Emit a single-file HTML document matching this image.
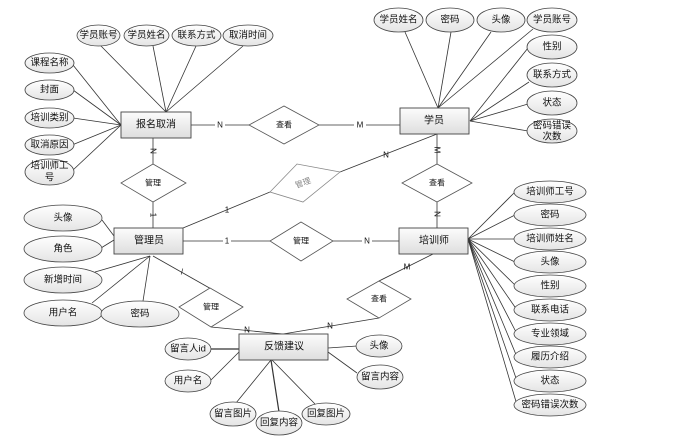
<!DOCTYPE html>
<html><head><meta charset="utf-8"><style>
body{margin:0;background:#fff;width:676px;height:440px;overflow:hidden}
text{font-family:"Liberation Sans","Noto Sans CJK SC",sans-serif;font-size:9.5px;fill:#111;text-anchor:middle;dominant-baseline:central}
.e{fill:url(#g);stroke:#444;stroke-width:0.8}
.r{fill:url(#g2);stroke:#444;stroke-width:0.9}
.d{fill:#fff;stroke:#555;stroke-width:0.8}
line,polyline{stroke:#333;stroke-width:0.8;fill:none}
.lb{font-size:8px}
</style></head><body>
<svg width="676" height="440" xmlns="http://www.w3.org/2000/svg">
<defs>
<linearGradient id="g" x1="0" y1="0" x2="0" y2="1"><stop offset="0" stop-color="#fff"/><stop offset="1" stop-color="#e4e4e4"/></linearGradient>
<linearGradient id="g2" x1="0" y1="0" x2="0" y2="1"><stop offset="0" stop-color="#fcfcfc"/><stop offset="1" stop-color="#dedede"/></linearGradient>
</defs>
<!-- lines 报名取消 -->
<line x1="100" y1="45" x2="166" y2="112"/><line x1="153" y1="46" x2="166" y2="112"/><line x1="196" y1="46" x2="166" y2="112"/><line x1="243" y1="46" x2="166" y2="112"/>
<line x1="73" y1="65" x2="121" y2="125"/><line x1="73" y1="90" x2="121" y2="125"/><line x1="73" y1="118" x2="121" y2="125"/><line x1="72" y1="145" x2="121" y2="125"/><line x1="73" y1="170" x2="121" y2="125"/>
<!-- 学员 lines -->
<line x1="405" y1="32" x2="438" y2="108"/><line x1="451" y1="32" x2="438" y2="108"/><line x1="491" y1="32" x2="438" y2="108"/><line x1="533" y1="29" x2="438" y2="108"/>
<line x1="528" y1="48" x2="470" y2="121"/><line x1="529" y1="82" x2="470" y2="121"/><line x1="528" y1="104" x2="470" y2="121"/><line x1="528" y1="131" x2="470" y2="121"/>
<!-- 培训师 lines -->
<line x1="468" y1="239" x2="515" y2="192"/><line x1="468" y1="239" x2="515" y2="215"/><line x1="468" y1="239" x2="514" y2="239"/><line x1="468" y1="239" x2="515" y2="262"/><line x1="468" y1="239" x2="516" y2="286"/><line x1="468" y1="239" x2="517" y2="310"/><line x1="468" y1="239" x2="517" y2="334"/><line x1="468" y1="239" x2="517" y2="357"/><line x1="468" y1="239" x2="517" y2="381"/><line x1="468" y1="239" x2="517" y2="405"/>
<!-- 管理员 lines -->
<line x1="102" y1="220" x2="114" y2="236"/><line x1="101" y1="248" x2="114" y2="240"/><line x1="95" y1="272" x2="150" y2="256"/><line x1="92" y1="303" x2="150" y2="256"/><line x1="143" y1="301" x2="150" y2="256"/>
<!-- 反馈 lines -->
<line x1="211" y1="349" x2="239" y2="349" style="stroke-width:1.3"/><line x1="211" y1="380" x2="239" y2="352"/><line x1="236" y1="403" x2="271" y2="360"/><line x1="279" y1="412" x2="271" y2="360" style="stroke-width:1.2"/><line x1="315" y1="404" x2="272" y2="360"/><line x1="357" y1="346" x2="328" y2="348"/><line x1="357" y1="373" x2="328" y2="352"/>
<!-- relationship connectors -->
<line x1="191" y1="125" x2="249" y2="125"/><line x1="319" y1="125" x2="400" y2="125"/>
<line x1="153" y1="138" x2="153" y2="164"/><line x1="153" y1="202" x2="153" y2="228"/>
<line x1="183" y1="228" x2="270" y2="192"/><line x1="340" y1="172" x2="437" y2="134"/>
<line x1="437" y1="134" x2="437" y2="164"/><line x1="437" y1="202" x2="437" y2="228"/>
<line x1="183" y1="241" x2="270" y2="241"/><line x1="333" y1="241" x2="399" y2="241"/>
<line x1="153" y1="256" x2="243" y2="307"/><line x1="211" y1="327" x2="283" y2="334"/>
<line x1="283" y1="334" x2="379" y2="318"/><line x1="379" y1="281" x2="433" y2="254"/>
<!-- labels on connectors -->
<g class="lb">
<rect x="215" y="120" width="10" height="10" fill="#fff"/><text x="220" y="125" class="lb">N</text>
<rect x="354" y="120" width="12" height="10" fill="#fff"/><text x="360" y="125" class="lb">M</text>
<text x="153" y="151" class="lb" transform="rotate(90 153 151)">N</text>
<text x="153" y="215" class="lb" transform="rotate(90 153 215)">1</text>
<text x="227" y="210" class="lb">1</text>
<text x="386" y="155" class="lb">N</text>
<text x="437" y="150" class="lb" transform="rotate(90 437 150)">M</text>
<text x="437" y="214" class="lb" transform="rotate(90 437 214)">N</text>
<rect x="223" y="236" width="8" height="10" fill="#fff"/><text x="227" y="241" class="lb">1</text>
<rect x="362" y="236" width="10" height="10" fill="#fff"/><text x="367" y="241" class="lb">N</text>
<text x="182" y="272" class="lb">/</text>
<text x="247" y="330" class="lb">N</text>
<text x="330" y="326" class="lb">N</text>
<text x="407" y="267" class="lb">M</text>
</g>
<!-- diamonds -->
<polygon class="d" points="249,125 284,106 319,125 284,144"/><text x="284" y="125" style="font-size:8px">查看</text>
<polygon class="d" points="121,183 153,164 186,183 153,202"/><text x="153" y="183" style="font-size:8px">管理</text>
<polygon class="d" points="270,192 297,164 340,172 303,202" style="stroke:#888"/><text x="303" y="183" style="font-size:8px;fill:#888" transform="rotate(-20 303 183)">管理</text>
<polygon class="d" points="402,183 437,164 472,183 437,202"/><text x="437" y="183" style="font-size:8px">查看</text>
<polygon class="d" points="270,241 301,222 333,241 301,261"/><text x="301" y="241" style="font-size:8px">管理</text>
<polygon class="d" points="179,307 210,288 243,307 211,327"/><text x="211" y="307" style="font-size:8px">管理</text>
<polygon class="d" points="347,299 379,281 411,299 379,318"/><text x="379" y="299" style="font-size:8px">查看</text>
<!-- entities -->
<rect class="r" x="121" y="112" width="70" height="26"/><text x="156" y="125" style="font-size:10px">报名取消</text>
<rect class="r" x="400" y="108" width="69" height="26"/><text x="434" y="121" style="font-size:10px">学员</text>
<rect class="r" x="114" y="228" width="69" height="26"/><text x="149" y="241" style="font-size:10px">管理员</text>
<rect class="r" x="399" y="228" width="69" height="26"/><text x="434" y="241" style="font-size:10px">培训师</text>
<rect class="r" x="239" y="334" width="89" height="26"/><text x="284" y="347" style="font-size:10px">反馈建议</text>
<!-- attributes -->
<ellipse class="e" cx="98.5" cy="35.5" rx="21.5" ry="10.5"/><text x="98.5" y="35.5">学员账号</text>
<ellipse class="e" cx="146.5" cy="35.5" rx="22.5" ry="10.5"/><text x="146.5" y="35.5">学员姓名</text>
<ellipse class="e" cx="196.5" cy="35.5" rx="24.5" ry="10.5"/><text x="196.5" y="35.5">联系方式</text>
<ellipse class="e" cx="248" cy="35.5" rx="25" ry="10.5"/><text x="248" y="35.5">取消时间</text>
<ellipse class="e" cx="49.5" cy="63" rx="24.5" ry="10"/><text x="49.5" y="63">课程名称</text>
<ellipse class="e" cx="49.5" cy="90" rx="24.5" ry="10"/><text x="49.5" y="90">封面</text>
<ellipse class="e" cx="49.5" cy="118" rx="24.5" ry="10"/><text x="49.5" y="118">培训类别</text>
<ellipse class="e" cx="49.5" cy="145" rx="24.5" ry="10"/><text x="49.5" y="145">取消原因</text>
<ellipse class="e" cx="49.5" cy="172" rx="24.5" ry="13"/><text x="49.5" y="166">培训师工</text><text x="49.5" y="178">号</text>
<ellipse class="e" cx="398.5" cy="20" rx="24.5" ry="12"/><text x="398.5" y="20">学员姓名</text>
<ellipse class="e" cx="450" cy="20" rx="24" ry="12"/><text x="450" y="20">密码</text>
<ellipse class="e" cx="501" cy="20" rx="24" ry="12"/><text x="501" y="20">头像</text>
<ellipse class="e" cx="552" cy="20" rx="25" ry="12"/><text x="552" y="20">学员账号</text>
<ellipse class="e" cx="552" cy="47" rx="25" ry="12"/><text x="552" y="47">性别</text>
<ellipse class="e" cx="552" cy="75" rx="25" ry="12"/><text x="552" y="75">联系方式</text>
<ellipse class="e" cx="552" cy="103" rx="25" ry="12"/><text x="552" y="103">状态</text>
<ellipse class="e" cx="552" cy="131" rx="25" ry="12"/><text x="552" y="126">密码错误</text><text x="552" y="137">次数</text>
<ellipse class="e" cx="550" cy="192" rx="36" ry="11"/><text x="550" y="192">培训师工号</text>
<ellipse class="e" cx="550" cy="215" rx="36" ry="11"/><text x="550" y="215">密码</text>
<ellipse class="e" cx="550" cy="239" rx="36" ry="11"/><text x="550" y="239">培训师姓名</text>
<ellipse class="e" cx="550" cy="262" rx="36" ry="11"/><text x="550" y="262">头像</text>
<ellipse class="e" cx="550" cy="286" rx="36" ry="11"/><text x="550" y="286">性别</text>
<ellipse class="e" cx="550" cy="310" rx="36" ry="11"/><text x="550" y="310">联系电话</text>
<ellipse class="e" cx="550" cy="334" rx="36" ry="11"/><text x="550" y="334">专业领域</text>
<ellipse class="e" cx="550" cy="357" rx="36" ry="11"/><text x="550" y="357">履历介绍</text>
<ellipse class="e" cx="550" cy="381" rx="36" ry="11"/><text x="550" y="381">状态</text>
<ellipse class="e" cx="550" cy="405" rx="36" ry="11"/><text x="550" y="405">密码错误次数</text>
<ellipse class="e" cx="63" cy="218" rx="39" ry="13"/><text x="63" y="218">头像</text>
<ellipse class="e" cx="63" cy="249" rx="39" ry="13"/><text x="63" y="249">角色</text>
<ellipse class="e" cx="63" cy="280" rx="39" ry="13"/><text x="63" y="280">新增时间</text>
<ellipse class="e" cx="63" cy="313" rx="39" ry="13"/><text x="63" y="313">用户名</text>
<ellipse class="e" cx="140" cy="314" rx="39" ry="13"/><text x="140" y="314">密码</text>
<ellipse class="e" cx="188" cy="349" rx="23" ry="11"/><text x="188" y="349">留言人id</text>
<ellipse class="e" cx="188" cy="381" rx="23" ry="11"/><text x="188" y="381">用户名</text>
<ellipse class="e" cx="233" cy="414" rx="23" ry="12"/><text x="233" y="414">留言图片</text>
<ellipse class="e" cx="279" cy="423" rx="23" ry="12"/><text x="279" y="423">回复内容</text>
<ellipse class="e" cx="326" cy="414" rx="24" ry="11"/><text x="326" y="414">回复图片</text>
<ellipse class="e" cx="379" cy="346" rx="23" ry="11"/><text x="379" y="346">头像</text>
<ellipse class="e" cx="380" cy="377" rx="23" ry="12"/><text x="380" y="377">留言内容</text>
</svg>
</body></html>
